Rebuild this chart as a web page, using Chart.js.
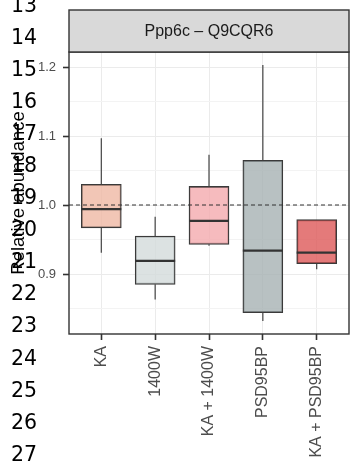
<!DOCTYPE html>
<html>
<head>
<meta charset="utf-8">
<script src="https://cdn.jsdelivr.net/npm/chart.js@4"></script>
<style>
  html, body { margin: 0; padding: 0; background: #fff; }
  #wrap { position: relative; width: 352px; height: 462px; overflow: hidden; }
  #boxChart { position: absolute; left: 0; top: 0; }
  #lineNums {
    position: absolute; left: 11px; top: -11.5px;
    font-family: "DejaVu Sans", sans-serif; font-size: 20.5px; line-height: 32.1px;
    color: #000; white-space: pre; pointer-events: none;
  }
</style>
</head>
<body>
<div id="wrap">
  <canvas id="boxChart" width="352" height="462"></canvas>
  <div id="lineNums"></div>
</div>
<script>
const groups = ["KA", "1400W", "KA + 1400W", "PSD95BP", "KA + PSD95BP"];
const lowWhisker = [0.931, 0.863, 0.941, 0.832, 0.907];
const q1 = [0.967, 0.885, 0.943, 0.844, 0.915];
const medians = [0.994, 0.919, 0.977, 0.934, 0.931];
const q3 = [1.030, 0.955, 1.027, 1.065, 0.979];
const highWhisker = [1.097, 0.983, 1.073, 1.203, 0.979];
const boxColors = ["rgba(239,184,164,0.8)", "rgba(211,219,219,0.8)", "rgba(244,170,174,0.8)",
                   "rgba(166,178,179,0.8)", "rgba(221,89,89,0.8)"];
const yTicks = [0.85, 0.9, 0.95, 1.0, 1.05, 1.1, 1.15, 1.2];
const refLine = 1.0;
const stripLabel = "Ppp6c \u2013 Q9CQR6";
const lineNumbers = [13, 14, 15, 16, 17, 18, 19, 20, 21, 22, 23, 24, 25, 26, 27];

document.getElementById("lineNums").textContent = lineNumbers.join("\n");

function isMajor(v) {
  return Math.round(v * 100) % 10 === 0;
}

// whiskers, medians, reference line, panel border and strip
const boxExtras = {
  id: "boxExtras",
  afterDatasetsDraw(chart) {
    const ctx = chart.ctx;
    const xs = chart.scales.x, ys = chart.scales.y;
    const area = chart.chartArea;
    const half = 20;
    ctx.save();
    ctx.strokeStyle = "#444";
    ctx.lineWidth = 1.2;
    for (let i = 0; i < groups.length; i++) {
      const px = xs.getPixelForValue(i + 1);
      ctx.beginPath();
      ctx.moveTo(px, ys.getPixelForValue(q3[i]));
      ctx.lineTo(px, ys.getPixelForValue(highWhisker[i]));
      ctx.moveTo(px, ys.getPixelForValue(q1[i]));
      ctx.lineTo(px, ys.getPixelForValue(lowWhisker[i]));
      ctx.stroke();
    }
    ctx.strokeStyle = "#333";
    ctx.lineWidth = 2.2;
    for (let i = 0; i < groups.length; i++) {
      const px = xs.getPixelForValue(i + 1);
      const py = ys.getPixelForValue(medians[i]);
      ctx.beginPath();
      ctx.moveTo(px - half, py);
      ctx.lineTo(px + half, py);
      ctx.stroke();
    }
    // dashed reference line
    const ry = ys.getPixelForValue(refLine);
    ctx.strokeStyle = "#333";
    ctx.lineWidth = 1.1;
    ctx.setLineDash([4, 3]);
    ctx.beginPath();
    ctx.moveTo(area.left, ry);
    ctx.lineTo(area.right, ry);
    ctx.stroke();
    ctx.setLineDash([]);
    // panel border
    ctx.strokeStyle = "#333";
    ctx.lineWidth = 1.4;
    ctx.strokeRect(area.left, area.top, area.right - area.left, area.bottom - area.top);
    // facet strip
    const stripTop = 10;
    ctx.fillStyle = "#D9D9D9";
    ctx.fillRect(area.left, stripTop, area.right - area.left, area.top - stripTop);
    ctx.strokeRect(area.left, stripTop, area.right - area.left, area.top - stripTop);
    ctx.fillStyle = "#1A1A1A";
    ctx.font = "16px 'Liberation Sans', Arial, sans-serif";
    ctx.textAlign = "center";
    ctx.textBaseline = "middle";
    ctx.fillText(stripLabel, (area.left + area.right) / 2, (stripTop + area.top) / 2 + 1);
    ctx.restore();
  }
};

new Chart(document.getElementById("boxChart"), {
  type: "bar",
  data: {
    datasets: [{
      data: groups.map((g, i) => ({ x: i + 1, y: [q1[i], q3[i]] })),
      backgroundColor: boxColors,
      borderColor: "#3a3a3a",
      borderWidth: 1.3,
      borderSkipped: false,
      barThickness: 40
    }]
  },
  options: {
    responsive: false,
    animation: false,
    layout: { padding: { top: 52, right: 3, left: 0, bottom: 0 } },
    plugins: {
      legend: { display: false },
      tooltip: { enabled: false }
    },
    scales: {
      x: {
        type: "linear",
        offset: false,
        min: 0.4,
        max: 5.6,
        afterBuildTicks(scale) {
          scale.ticks = groups.map((g, i) => ({ value: i + 1 }));
        },
        afterFit(scale) { scale.height = 128; },
        ticks: {
          callback: (v) => groups[Math.round(v) - 1],
          minRotation: 90,
          maxRotation: 90,
          autoSkip: false,
          padding: 6,
          color: "#4D4D4D",
          font: { family: "'Liberation Sans', Arial, sans-serif", size: 16 }
        },
        grid: {
          offset: false,
          color: "#EBEBEB",
          lineWidth: 1,
          tickLength: 6,
          tickColor: "#333",
          tickWidth: 1.6
        },
        border: { display: false }
      },
      y: {
        min: 0.813,
        max: 1.222,
        afterBuildTicks(scale) {
          scale.ticks = yTicks.map(v => ({ value: v }));
        },
        afterFit(scale) { scale.width = 69; },
        ticks: {
          callback: (v) => isMajor(v) ? v.toFixed(1) : "",
          padding: 7,
          color: "#4D4D4D",
          font: { family: "'Liberation Sans', Arial, sans-serif", size: 13 }
        },
        grid: {
          color: (c) => isMajor(c.tick.value) ? "#EBEBEB" : "#F3F3F3",
          lineWidth: 1,
          tickLength: 6,
          tickColor: (c) => isMajor(c.tick.value) ? "#333" : "rgba(0,0,0,0)",
          tickWidth: 1.6
        },
        border: { display: false },
        title: {
          display: true,
          text: "Relative abundance",
          color: "#000",
          padding: { top: 8, bottom: 0 },
          font: { family: "'Liberation Sans', Arial, sans-serif", size: 18.5 }
        }
      }
    }
  },
  plugins: [boxExtras]
});
</script>
</body>
</html>
